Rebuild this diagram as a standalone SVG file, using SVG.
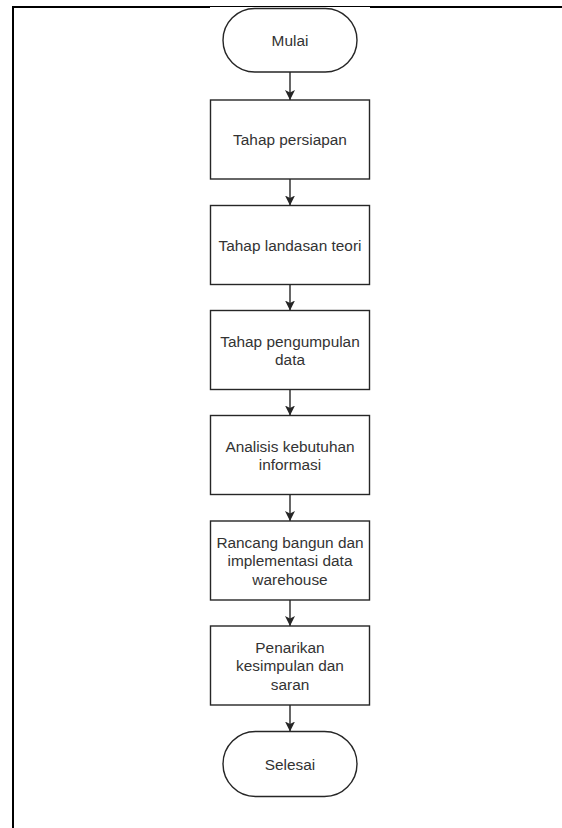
<svg xmlns="http://www.w3.org/2000/svg" width="562" height="828" viewBox="0 0 562 828">
<defs>
<style>
.node{fill:#ffffff;stroke:#262626;stroke-width:1.4}
.lbl{font-family:"Liberation Sans",Arial,sans-serif;font-size:15.4px;fill:#333333;text-anchor:middle}
.edge{stroke:#262626;stroke-width:1.4;fill:none}
</style>
<marker id="arr" markerUnits="userSpaceOnUse" markerWidth="12" markerHeight="12" viewBox="0 0 12 12" refX="10" refY="6" orient="auto">
<path d="M0,1 L10,6 L0,11 L2.5,6 Z" fill="#262626"/>
</marker>
</defs>
<rect x="0" y="0" width="562" height="828" fill="#ffffff"/>
<g id="frame">
<line x1="13" y1="7" x2="210" y2="7" stroke="#000" stroke-width="2"/>
<line x1="210" y1="6.5" x2="370" y2="6.5" stroke="#000" stroke-width="1"/>
<line x1="370" y1="7" x2="562" y2="7" stroke="#000" stroke-width="2"/>
<line x1="13" y1="6" x2="13" y2="828" stroke="#000" stroke-width="2"/>
</g>
<g id="connectors">
<line class="edge" x1="290" y1="72" x2="290" y2="100" marker-end="url(#arr)"/>
<line class="edge" x1="290" y1="179" x2="290" y2="205.5" marker-end="url(#arr)"/>
<line class="edge" x1="290" y1="284.5" x2="290" y2="310.5" marker-end="url(#arr)"/>
<line class="edge" x1="290" y1="389.5" x2="290" y2="415.5" marker-end="url(#arr)"/>
<line class="edge" x1="290" y1="494.5" x2="290" y2="521" marker-end="url(#arr)"/>
<line class="edge" x1="290" y1="600" x2="290" y2="626" marker-end="url(#arr)"/>
<line class="edge" x1="290" y1="705" x2="290" y2="731.5" marker-end="url(#arr)"/>
</g>
<g id="mulai">
<rect class="node" x="223" y="8.5" width="134" height="63.5" rx="31.75" ry="31.75"/>
<text class="lbl" x="290" y="46">Mulai</text>
</g>
<g id="persiapan">
<rect class="node" x="210.5" y="100" width="159" height="79"/>
<text class="lbl" x="290" y="145.2">Tahap persiapan</text>
</g>
<g id="landasan">
<rect class="node" x="210.5" y="205.5" width="159" height="79"/>
<text class="lbl" x="290" y="250.7">Tahap landasan teori</text>
</g>
<g id="pengumpulan">
<rect class="node" x="210.5" y="310.5" width="159" height="79"/>
<text class="lbl" x="290" y="346.5">Tahap pengumpulan</text>
<text class="lbl" x="290" y="365">data</text>
</g>
<g id="analisis">
<rect class="node" x="210.5" y="415.5" width="159" height="79"/>
<text class="lbl" x="290" y="451.5">Analisis kebutuhan</text>
<text class="lbl" x="290" y="470">informasi</text>
</g>
<g id="rancang">
<rect class="node" x="210.5" y="521" width="159" height="79"/>
<text class="lbl" x="290" y="547.7">Rancang bangun dan</text>
<text class="lbl" x="290" y="566.2">implementasi data</text>
<text class="lbl" x="290" y="584.7">warehouse</text>
</g>
<g id="penarikan">
<rect class="node" x="210.5" y="626" width="159" height="79"/>
<text class="lbl" x="290" y="652.7">Penarikan</text>
<text class="lbl" x="290" y="671.2">kesimpulan dan</text>
<text class="lbl" x="290" y="689.7">saran</text>
</g>
<g id="selesai">
<rect class="node" x="223" y="731.5" width="134" height="65" rx="32.5" ry="32.5"/>
<text class="lbl" x="290" y="769.7">Selesai</text>
</g>
</svg>
